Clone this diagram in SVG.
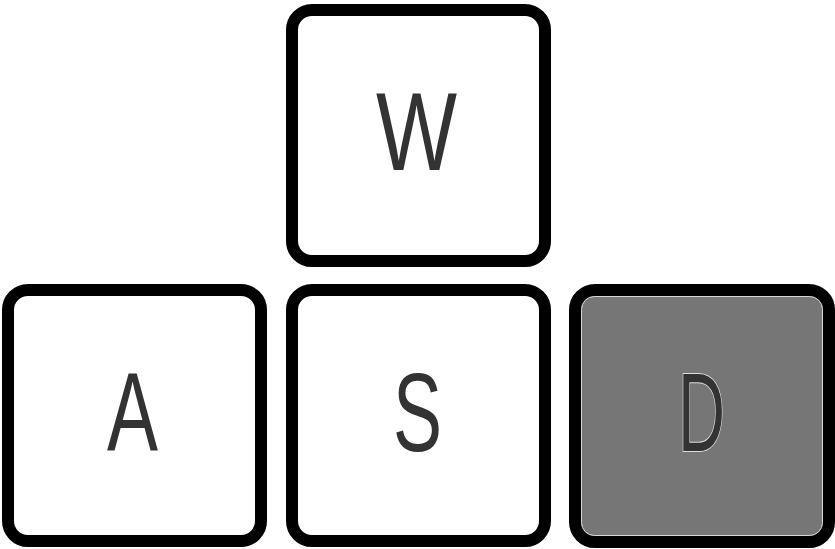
<svg xmlns="http://www.w3.org/2000/svg" width="835" height="549" viewBox="0 0 835 549">
<style>
.key{fill:#ffffff;stroke:#000000;stroke-width:12}
.lbl{font-family:"Liberation Sans","DejaVu Sans",sans-serif;font-size:112px;fill:#333333;text-anchor:middle}
</style>
<rect width="835" height="549" fill="#ffffff"/>
<g id="key-w">
<rect class="key" x="292" y="10" width="253" height="251" rx="20"/>
<text class="lbl" x="416.5" y="170" textLength="81" lengthAdjust="spacingAndGlyphs">W</text>
</g>
<g id="key-a">
<rect class="key" x="8" y="290" width="253" height="251" rx="20"/>
<text class="lbl" x="132.5" y="450" textLength="51" lengthAdjust="spacingAndGlyphs">A</text>
</g>
<g id="key-s">
<rect class="key" x="292" y="290" width="253" height="251" rx="20"/>
<text class="lbl" x="417.5" y="451" textLength="49" lengthAdjust="spacingAndGlyphs">S</text>
</g>
<g id="key-d">
<rect class="key" x="575" y="290" width="254" height="252" rx="20" style="fill:#767676"/>
<rect x="581.5" y="296.5" width="241" height="239" rx="13" fill="none" stroke="#d8d8d8" stroke-width="1"/>
<text class="lbl" x="701.5" y="451" textLength="47" lengthAdjust="spacingAndGlyphs" stroke="#dddddd" stroke-width="2" paint-order="stroke">D</text>
</g>
<g id="connectors"></g>
</svg>
